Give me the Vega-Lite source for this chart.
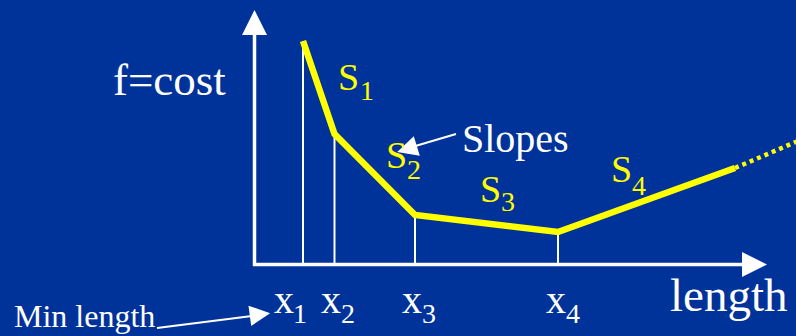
{
  "$schema": "https://vega.github.io/schema/vega-lite/v6.json",
  "width": 796,
  "height": 336,
  "padding": 0,
  "autosize": "none",
  "background": "#003399",
  "config": {"view": {"stroke": null}},
  "datasets": {
    "curve": [
      {"length": 303, "cost": 41, "seq": 1},
      {"length": 334.5, "cost": 134, "seq": 2},
      {"length": 415, "cost": 215, "seq": 3},
      {"length": 558, "cost": 232, "seq": 4},
      {"length": 735, "cost": 168, "seq": 5}
    ],
    "tail": [
      {"length": 735, "cost": 168, "seq": 1},
      {"length": 798, "cost": 141, "seq": 2}
    ],
    "drops": [
      {"length": 303, "cost": 41, "base": 264.5},
      {"length": 334.5, "cost": 134, "base": 264.5},
      {"length": 415, "cost": 215, "base": 264.5},
      {"length": 558, "cost": 232, "base": 264.5}
    ],
    "axes": [
      {"x1": 254.5, "y1": 266, "x2": 254.5, "y2": 30},
      {"x1": 253, "y1": 264.5, "x2": 745, "y2": 264.5}
    ],
    "pointers": [
      {"x1": 157, "y1": 328, "x2": 252, "y2": 316},
      {"x1": 456, "y1": 134, "x2": 412, "y2": 147}
    ],
    "bigheads": [
      {"x": 254.5, "y": 22.5, "angle": 0},
      {"x": 754.5, "y": 264.5, "angle": 90}
    ],
    "smallheads": [
      {"x": 260, "y": 314.5, "angle": 82.4},
      {"x": 407, "y": 149, "angle": 253}
    ],
    "labels": [
      {"role": "title", "text": "f=cost", "x": 113, "y": 95},
      {"role": "slopes", "text": "Slopes", "x": 462, "y": 152},
      {"role": "length", "text": "length", "x": 670, "y": 311},
      {"role": "min", "text": "Min length", "x": 14, "y": 327},
      {"role": "S", "text": "S", "x": 338, "y": 90},
      {"role": "S", "text": "S", "x": 386, "y": 168},
      {"role": "S", "text": "S", "x": 480, "y": 202},
      {"role": "S", "text": "S", "x": 611, "y": 182},
      {"role": "Ssub", "text": "1", "x": 360, "y": 100},
      {"role": "Ssub", "text": "2", "x": 407, "y": 179},
      {"role": "Ssub", "text": "3", "x": 501, "y": 211},
      {"role": "Ssub", "text": "4", "x": 632, "y": 195},
      {"role": "X", "text": "x", "x": 274, "y": 313},
      {"role": "X", "text": "x", "x": 321, "y": 313},
      {"role": "X", "text": "x", "x": 402, "y": 313},
      {"role": "X", "text": "x", "x": 546, "y": 313},
      {"role": "Xsub", "text": "1", "x": 293, "y": 323},
      {"role": "Xsub", "text": "2", "x": 341, "y": 323},
      {"role": "Xsub", "text": "3", "x": 422, "y": 323},
      {"role": "Xsub", "text": "4", "x": 566, "y": 323}
    ]
  },
  "layer": [
    {
      "data": {"name": "drops"},
      "mark": {"type": "rule", "color": "white", "strokeWidth": 2},
      "encoding": {
        "x": {"field": "length", "type": "quantitative", "scale": {"domain": [0, 796], "nice": false, "zero": false}, "axis": null},
        "y": {"field": "cost", "type": "quantitative", "scale": {"domain": [0, 336], "nice": false, "zero": false, "reverse": true}, "axis": null},
        "y2": {"field": "base"}
      }
    },
    {
      "data": {"name": "axes"},
      "mark": {"type": "rule", "color": "white", "strokeWidth": 3.5},
      "encoding": {
        "x": {"field": "x1", "type": "quantitative"},
        "y": {"field": "y1", "type": "quantitative"},
        "x2": {"field": "x2"},
        "y2": {"field": "y2"}
      }
    },
    {
      "data": {"name": "pointers"},
      "mark": {"type": "rule", "color": "white", "strokeWidth": 2},
      "encoding": {
        "x": {"field": "x1", "type": "quantitative"},
        "y": {"field": "y1", "type": "quantitative"},
        "x2": {"field": "x2"},
        "y2": {"field": "y2"}
      }
    },
    {
      "data": {"name": "curve"},
      "mark": {"type": "line", "color": "#ffff00", "strokeWidth": 6.5, "strokeJoin": "miter", "strokeCap": "butt"},
      "encoding": {
        "x": {"field": "length", "type": "quantitative"},
        "y": {"field": "cost", "type": "quantitative"},
        "order": {"field": "seq"}
      }
    },
    {
      "data": {"name": "tail"},
      "mark": {"type": "line", "color": "#ffff00", "strokeWidth": 4.5, "strokeDash": [4, 4]},
      "encoding": {
        "x": {"field": "length", "type": "quantitative"},
        "y": {"field": "cost", "type": "quantitative"},
        "order": {"field": "seq"}
      }
    },
    {
      "data": {"name": "bigheads"},
      "mark": {"type": "point", "shape": "M0,-1L1,1L-1,1Z", "filled": true, "color": "white", "opacity": 1, "size": 625, "strokeWidth": 0},
      "encoding": {
        "x": {"field": "x", "type": "quantitative"},
        "y": {"field": "y", "type": "quantitative"},
        "angle": {"field": "angle", "type": "quantitative", "scale": null}
      }
    },
    {
      "data": {"name": "smallheads"},
      "mark": {"type": "point", "shape": "M0,-1L1,1L-1,1Z", "filled": true, "color": "white", "opacity": 1, "size": 420, "strokeWidth": 0},
      "encoding": {
        "x": {"field": "x", "type": "quantitative"},
        "y": {"field": "y", "type": "quantitative"},
        "angle": {"field": "angle", "type": "quantitative", "scale": null}
      }
    },
    {
      "data": {"name": "labels"},
      "transform": [{"filter": "datum.role === 'title'"}],
      "mark": {"type": "text", "font": "Times New Roman, Liberation Serif, serif", "align": "left", "baseline": "alphabetic", "color": "white", "fontSize": 45},
      "encoding": {"x": {"field": "x", "type": "quantitative"}, "y": {"field": "y", "type": "quantitative"}, "text": {"field": "text"}}
    },
    {
      "data": {"name": "labels"},
      "transform": [{"filter": "datum.role === 'slopes'"}],
      "mark": {"type": "text", "font": "Times New Roman, Liberation Serif, serif", "align": "left", "baseline": "alphabetic", "color": "white", "fontSize": 40},
      "encoding": {"x": {"field": "x", "type": "quantitative"}, "y": {"field": "y", "type": "quantitative"}, "text": {"field": "text"}}
    },
    {
      "data": {"name": "labels"},
      "transform": [{"filter": "datum.role === 'length'"}],
      "mark": {"type": "text", "font": "Times New Roman, Liberation Serif, serif", "align": "left", "baseline": "alphabetic", "color": "white", "fontSize": 47},
      "encoding": {"x": {"field": "x", "type": "quantitative"}, "y": {"field": "y", "type": "quantitative"}, "text": {"field": "text"}}
    },
    {
      "data": {"name": "labels"},
      "transform": [{"filter": "datum.role === 'min'"}],
      "mark": {"type": "text", "font": "Times New Roman, Liberation Serif, serif", "align": "left", "baseline": "alphabetic", "color": "white", "fontSize": 32},
      "encoding": {"x": {"field": "x", "type": "quantitative"}, "y": {"field": "y", "type": "quantitative"}, "text": {"field": "text"}}
    },
    {
      "data": {"name": "labels"},
      "transform": [{"filter": "datum.role === 'S'"}],
      "mark": {"type": "text", "font": "Times New Roman, Liberation Serif, serif", "align": "left", "baseline": "alphabetic", "color": "#ffff00", "fontSize": 38},
      "encoding": {"x": {"field": "x", "type": "quantitative"}, "y": {"field": "y", "type": "quantitative"}, "text": {"field": "text"}}
    },
    {
      "data": {"name": "labels"},
      "transform": [{"filter": "datum.role === 'Ssub'"}],
      "mark": {"type": "text", "font": "Times New Roman, Liberation Serif, serif", "align": "left", "baseline": "alphabetic", "color": "#ffff00", "fontSize": 28},
      "encoding": {"x": {"field": "x", "type": "quantitative"}, "y": {"field": "y", "type": "quantitative"}, "text": {"field": "text"}}
    },
    {
      "data": {"name": "labels"},
      "transform": [{"filter": "datum.role === 'X'"}],
      "mark": {"type": "text", "font": "Times New Roman, Liberation Serif, serif", "align": "left", "baseline": "alphabetic", "color": "white", "fontSize": 40},
      "encoding": {"x": {"field": "x", "type": "quantitative"}, "y": {"field": "y", "type": "quantitative"}, "text": {"field": "text"}}
    },
    {
      "data": {"name": "labels"},
      "transform": [{"filter": "datum.role === 'Xsub'"}],
      "mark": {"type": "text", "font": "Times New Roman, Liberation Serif, serif", "align": "left", "baseline": "alphabetic", "color": "white", "fontSize": 28},
      "encoding": {"x": {"field": "x", "type": "quantitative"}, "y": {"field": "y", "type": "quantitative"}, "text": {"field": "text"}}
    }
  ]
}
